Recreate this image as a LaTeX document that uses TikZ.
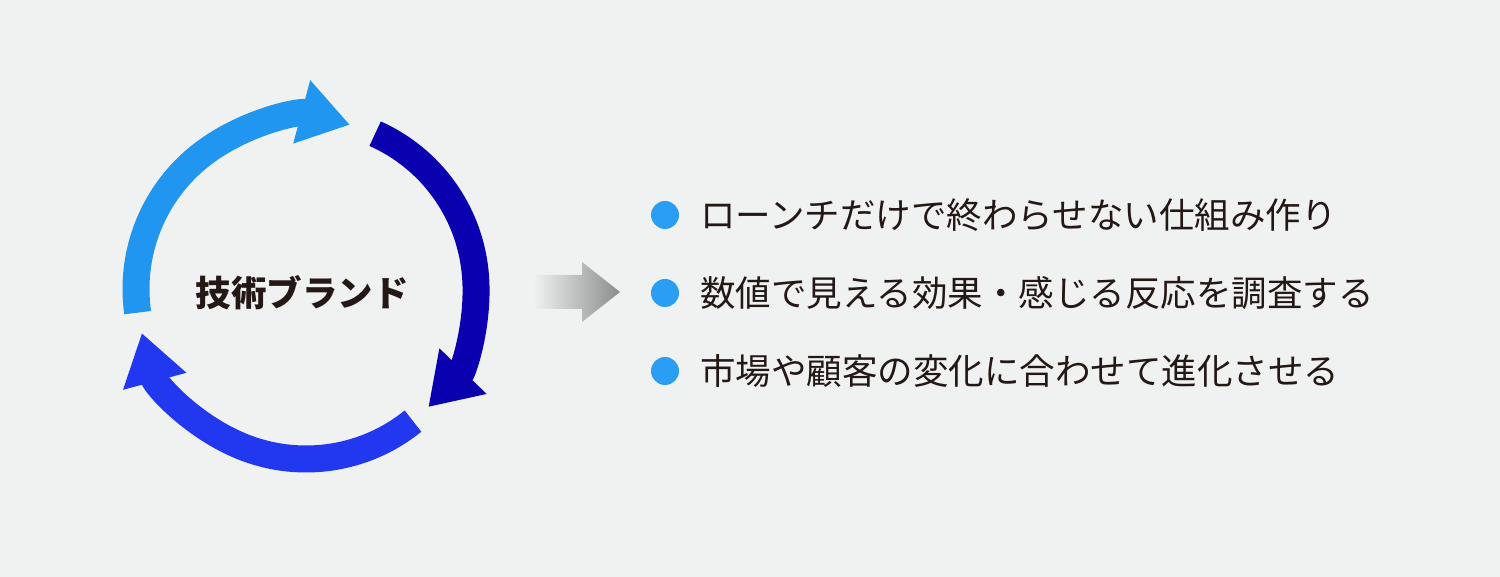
\documentclass[tikz,border=0pt]{standalone}
\usepackage{fontspec}
\newfontfamily\cjk{Noto Sans CJK JP}
\usetikzlibrary{arrows.meta}
\definecolor{bg}{HTML}{F0F2F2}
\definecolor{lblue}{HTML}{2196F0}
\definecolor{navy}{HTML}{0A00B0}
\definecolor{mblue}{HTML}{2238F0}
\definecolor{txt}{HTML}{231815}
\definecolor{dot}{HTML}{2A9DF4}
\tikzset{cyc/.style={line width=27pt,-{Triangle[width=62pt,length=50pt]}},
 item/.style={anchor=west,text=txt,font=\cjk\fontsize{35.5pt}{40pt}\selectfont,inner sep=0},
 bul/.style={circle,fill=dot,minimum size=28pt,inner sep=0}}
\begin{document}
\begin{tikzpicture}[x=1pt,y=1pt]
\fill[bg] (0,0) rectangle (1500,577);
\useasboundingbox (0,0) rectangle (1500,577);
\coordinate (c) at (306,288);
\draw[cyc,lblue] (c) ++(188:170) arc[start angle=188,end angle=75,radius=170];
\draw[cyc,navy] (c) ++(66:170) arc[start angle=66,end angle=-44,radius=170];
\draw[cyc,mblue] (c) ++(-51:170) arc[start angle=-51,end angle=-165,radius=170];
\node[text=txt,font=\cjk\bfseries\fontsize{35.5pt}{40pt}\selectfont] (lab) at (302,284) {技術ブランド};
\shade[left color=bg,right color=gray!90] (533,268) -- (582,268) -- (582,255) -- (620,285) -- (582,315) -- (582,302) -- (533,302) -- cycle;
\foreach \y/\t [count=\i] in {362/ローンチだけで終わらせない仕組み作り,284/数値で見える効果・感じる反応を調査する,206/市場や顧客の変化に合わせて進化させる}{
 \node[bul] (b\i) at (665,\y) {};
 \node[item] (t\i) at (700,\y) {\t};
}
\end{tikzpicture}
\end{document}
